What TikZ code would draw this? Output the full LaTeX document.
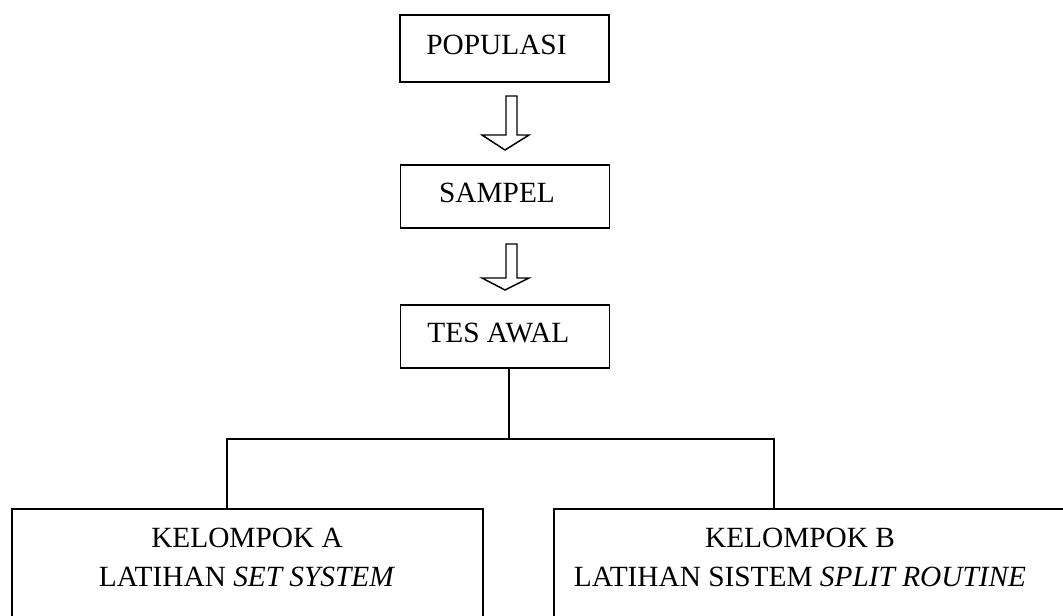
\documentclass[tikz,border=0pt]{standalone}
\usepackage{fontspec}
\setmainfont{Liberation Serif}
\usetikzlibrary{calc}
\begin{document}
\begin{tikzpicture}[x=0.75pt,y=-0.75pt,line width=1.3pt,
  txt/.style={font=\fontsize{22}{29.25}\selectfont},
  box/.style={txt,draw,rectangle,inner sep=0pt,minimum width=156.75pt,minimum height=47.25pt,text depth=6pt},
  bigbox/.style={draw,rectangle,inner sep=0pt,minimum height=150pt,anchor=north west},
  label/.style={txt,align=center,inner sep=0pt},
  blockarrow/.style={draw,fill=white,line width=1.1pt,line join=miter},
  conn/.style={draw,line width=1.3pt}]
\useasboundingbox (0,0) rectangle (1063,615);
\clip (0,0) rectangle (1063,615);

\node[box,minimum height=50.25pt] (pop) at (504.5,48.5) {POPULASI\hspace*{12pt}};
\node[box] (sam) at (505,196.5) {SAMPEL\hspace*{12pt}};
\node[box] (tes) at (505,336.5) {TES AWAL\hspace*{10pt}};

\node[bigbox,minimum width=353.25pt] (ka) at (11,508) {};
\node[bigbox,minimum width=450pt] (kb) at (553,508) {};
\node[label] (kat) at (247,557.5) {KELOMPOK A\\LATIHAN \textit{SET SYSTEM}};
\node[label] (kbt) at (800,557.5) {KELOMPOK B\\LATIHAN SISTEM \textit{SPLIT ROUTINE}};

% hollow block arrows
\path[blockarrow] (506,96) -- (517,96) -- (517,135) -- (529,135) -- (505,150)
  -- (482,135) -- (506,135) -- cycle;
\path[blockarrow] (506,244) -- (517,244) -- (517,278) -- (529,278) -- (505,290)
  -- (482,278) -- (506,278) -- cycle;

% connectors
\coordinate (j) at (509,439);
\draw[conn] ($(tes.south)+(4,0)$) -- (j);
\draw[conn] ($(ka.north west)+(216,0)$) |- (j) -| ($(kb.north west)+(221,0)$);
\end{tikzpicture}
\end{document}
